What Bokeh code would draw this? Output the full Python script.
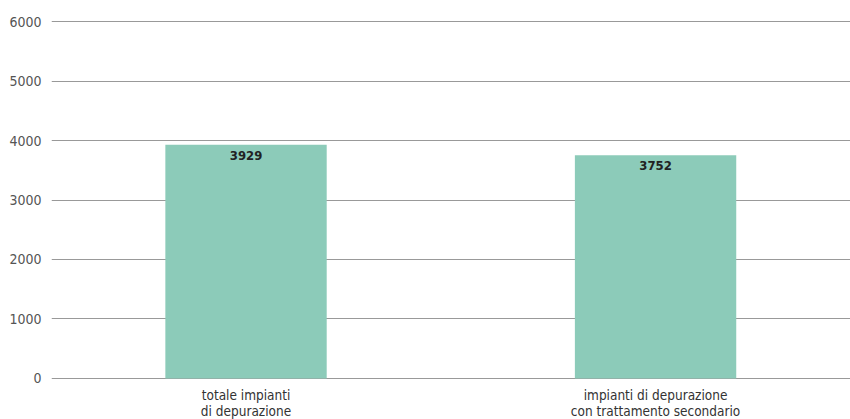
from bokeh.plotting import figure
from bokeh.models import Range1d, FixedTicker, ColumnDataSource, LabelSet
from bokeh.embed import file_html
from bokeh.resources import INLINE
from bokeh.core.properties import value

categories = ["totale impianti\ndi depurazione", "impianti di depurazione\ncon trattamento secondario"]
values = [3929, 3752]
y_ticks = [0, 1000, 2000, 3000, 4000, 5000, 6000]

FONT = "DejaVu Sans Condensed"

xs = list(range(len(categories)))
src = ColumnDataSource(dict(x=xs, top=values, label=[str(v) for v in values]))

p = figure(width=850, height=419, output_backend="svg", toolbar_location=None,
           x_range=Range1d(-0.475, 1.476), y_range=Range1d(-34, 6034),
           min_border_left=51, min_border_right=0, min_border_top=19, min_border_bottom=39)
p.frame_width = 799
p.frame_height = 361
p.outline_line_color = None
p.background_fill_color = "white"
p.border_fill_color = "white"

p.vbar(x="x", top="top", width=0.394, bottom=0, source=src, color="#8ccbb9", line_color=None)

labels = LabelSet(x="x", y="top", text="label", source=src, text_align="center",
                  text_baseline="top", y_offset=-6, text_font=value(FONT),
                  text_font_size="13px", text_font_style="bold", text_color="#222222")
p.add_layout(labels)

p.yaxis.ticker = FixedTicker(ticks=y_ticks)
p.xaxis.ticker = FixedTicker(ticks=xs)
p.xaxis.major_label_overrides = {i: c for i, c in enumerate(categories)}

for ax in (p.xaxis, p.yaxis):
    ax.axis_line_color = None
    ax.major_tick_line_color = None
    ax.minor_tick_line_color = None
    ax.major_label_text_font = FONT
    ax.major_label_text_font_size = "14px"
p.xaxis.major_label_text_font_size = "13.5px"
p.xaxis.major_label_text_line_height = 1.05
p.yaxis.major_label_text_color = "#555555"
p.xaxis.major_label_text_color = "#333333"
p.yaxis.major_label_standoff = 4
p.xaxis.major_label_standoff = 0

p.xgrid.grid_line_color = None
p.ygrid.grid_line_color = "#999999"
p.ygrid.grid_line_width = 1

open("out.html", "w").write(file_html(p, INLINE))
